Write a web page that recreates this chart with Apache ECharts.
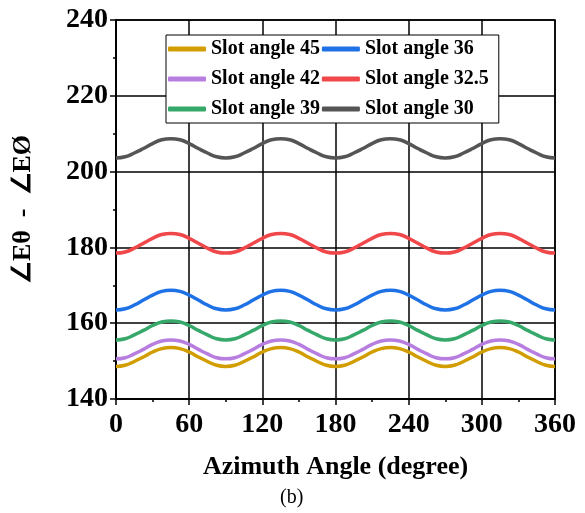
<!DOCTYPE html>
<html>
<head>
<meta charset="utf-8">
<script src="https://cdn.jsdelivr.net/npm/echarts@6/dist/echarts.min.js"></script>
<style>
  html, body { margin: 0; padding: 0; background: #fff; }
  #main { width: 585px; height: 513px; }
</style>
</head>
<body>
<div id="main"></div>
<script>
  // azimuth angle, one reading every 7.5 degrees
  var azimuth = [0, 7.5, 15, 22.5, 30, 37.5, 45, 52.5, 60, 67.5, 75, 82.5, 90,
                 97.5, 105, 112.5, 120, 127.5, 135, 142.5, 150, 157.5, 165, 172.5, 180,
                 187.5, 195, 202.5, 210, 217.5, 225, 232.5, 240, 247.5, 255, 262.5, 270,
                 277.5, 285, 292.5, 300, 307.5, 315, 322.5, 330, 337.5, 345, 352.5, 360];

  // phase difference
  var slot45 = [148.6, 148.9, 149.9, 151.1, 152.4, 153.3, 153.6, 153.3, 152.4, 151.1, 149.9, 148.9, 148.6,
                148.9, 149.9, 151.1, 152.4, 153.3, 153.6, 153.3, 152.4, 151.1, 149.9, 148.9, 148.6,
                148.9, 149.9, 151.1, 152.4, 153.3, 153.6, 153.3, 152.4, 151.1, 149.9, 148.9, 148.6,
                148.9, 149.9, 151.1, 152.4, 153.3, 153.6, 153.3, 152.4, 151.1, 149.9, 148.9, 148.6];
  var slot42 = [150.6, 150.9, 151.9, 153.1, 154.4, 155.3, 155.6, 155.3, 154.4, 153.1, 151.9, 150.9, 150.6,
                150.9, 151.9, 153.1, 154.4, 155.3, 155.6, 155.3, 154.4, 153.1, 151.9, 150.9, 150.6,
                150.9, 151.9, 153.1, 154.4, 155.3, 155.6, 155.3, 154.4, 153.1, 151.9, 150.9, 150.6,
                150.9, 151.9, 153.1, 154.4, 155.3, 155.6, 155.3, 154.4, 153.1, 151.9, 150.9, 150.6];
  var slot39 = [155.6, 155.9, 156.9, 158.1, 159.4, 160.3, 160.6, 160.3, 159.4, 158.1, 156.9, 155.9, 155.6,
                155.9, 156.9, 158.1, 159.4, 160.3, 160.6, 160.3, 159.4, 158.1, 156.9, 155.9, 155.6,
                155.9, 156.9, 158.1, 159.4, 160.3, 160.6, 160.3, 159.4, 158.1, 156.9, 155.9, 155.6,
                155.9, 156.9, 158.1, 159.4, 160.3, 160.6, 160.3, 159.4, 158.1, 156.9, 155.9, 155.6];
  var slot36 = [163.5, 163.8, 164.8, 166.1, 167.4, 168.4, 168.7, 168.4, 167.4, 166.1, 164.8, 163.8, 163.5,
                163.8, 164.8, 166.1, 167.4, 168.4, 168.7, 168.4, 167.4, 166.1, 164.8, 163.8, 163.5,
                163.8, 164.8, 166.1, 167.4, 168.4, 168.7, 168.4, 167.4, 166.1, 164.8, 163.8, 163.5,
                163.8, 164.8, 166.1, 167.4, 168.4, 168.7, 168.4, 167.4, 166.1, 164.8, 163.8, 163.5];
  var slot325 = [178.5, 178.8, 179.8, 181.1, 182.4, 183.4, 183.7, 183.4, 182.4, 181.1, 179.8, 178.8, 178.5,
                 178.8, 179.8, 181.1, 182.4, 183.4, 183.7, 183.4, 182.4, 181.1, 179.8, 178.8, 178.5,
                 178.8, 179.8, 181.1, 182.4, 183.4, 183.7, 183.4, 182.4, 181.1, 179.8, 178.8, 178.5,
                 178.8, 179.8, 181.1, 182.4, 183.4, 183.7, 183.4, 182.4, 181.1, 179.8, 178.8, 178.5];
  var slot30 = [203.6, 203.9, 204.9, 206.1, 207.4, 208.4, 208.7, 208.4, 207.4, 206.1, 204.9, 203.9, 203.6,
                203.9, 204.9, 206.1, 207.4, 208.4, 208.7, 208.4, 207.4, 206.1, 204.9, 203.9, 203.6,
                203.9, 204.9, 206.1, 207.4, 208.4, 208.7, 208.4, 207.4, 206.1, 204.9, 203.9, 203.6,
                203.9, 204.9, 206.1, 207.4, 208.4, 208.7, 208.4, 207.4, 206.1, 204.9, 203.9, 203.6];

  var names  = ['Slot angle 45', 'Slot angle 42', 'Slot angle 39', 'Slot angle 36', 'Slot angle 32.5', 'Slot angle 30'];
  var values = [slot45, slot42, slot39, slot36, slot325, slot30];
  var colors = ['#d19d00', '#b77ee0', '#35a86a', '#1f72e6', '#f0474a', '#555555'];

  var font = 'Liberation Serif, Times New Roman, serif';

  var myChart = echarts.init(document.getElementById('main'));

  var series = names.map(function (name, i) {
    return {
      name: name,
      type: 'line',
      smooth: 0.5,
      showSymbol: false,
      data: azimuth.map(function (x, j) { return [x, values[i][j]]; }),
      lineStyle: { color: colors[i], width: 3.5 },
      itemStyle: { color: colors[i] },
      z: 3
    };
  });

  myChart.setOption({
    animation: false,
    backgroundColor: '#fff',
    grid: {
      left: 116, right: 30, top: 20, bottom: 114,
      outerBoundsMode: 'none',
      show: true, borderColor: '#000', borderWidth: 1.5
    },
    legend: {
      // order so that the rows wrap into two columns
      data: ['Slot angle 45', 'Slot angle 36', 'Slot angle 42', 'Slot angle 32.5', 'Slot angle 39', 'Slot angle 30'],
      left: 166, top: 35, width: 370,
      padding: [0, 10, 0, 2],
      itemGap: 2,
      itemWidth: 38, itemHeight: 5,
      icon: 'roundRect',
      backgroundColor: '#fff',
      borderColor: '#000', borderWidth: 1,
      textStyle: { fontFamily: font, fontWeight: 'bold', fontSize: 20, lineHeight: 28, color: '#000' },
      z: 5
    },
    xAxis: {
      type: 'value',
      min: 0, max: 360, interval: 60,
      name: 'Azimuth Angle (degree)',
      nameLocation: 'middle', nameGap: 55,
      nameTextStyle: { fontFamily: font, fontWeight: 'bold', fontSize: 26, color: '#000' },
      axisLine: { lineStyle: { color: '#000', width: 1.5 } },
      axisTick: { inside: false, length: 6, lineStyle: { color: '#000', width: 1.5 } },
      minorTick: { show: true, splitNumber: 2, length: 3, lineStyle: { color: '#000', width: 1.5 } },
      axisLabel: { fontFamily: font, fontWeight: 'bold', fontSize: 28, color: '#000', margin: 12 },
      splitLine: { show: true, lineStyle: { color: '#000', width: 1.5 } }
    },
    yAxis: {
      type: 'value',
      min: 140, max: 240, interval: 20,
      name: '∠Eθ  -  ∠EØ',
      nameLocation: 'middle', nameGap: 80,
      nameTextStyle: { fontFamily: font, fontWeight: 'bold', fontSize: 26, color: '#000' },
      axisLine: { lineStyle: { color: '#000', width: 1.5 } },
      axisTick: { inside: false, length: 6, lineStyle: { color: '#000', width: 1.5 } },
      minorTick: { show: true, splitNumber: 2, length: 3, lineStyle: { color: '#000', width: 1.5 } },
      axisLabel: { fontFamily: font, fontWeight: 'bold', fontSize: 28, color: '#000', margin: 8 },
      splitLine: { show: true, lineStyle: { color: '#000', width: 1.5 } }
    },
    graphic: [{
      type: 'text',
      left: 280, top: 488,
      style: { text: '(b)', fontFamily: font, fontSize: 20, fill: '#000' }
    }],
    series: series
  });
</script>
</body>
</html>
